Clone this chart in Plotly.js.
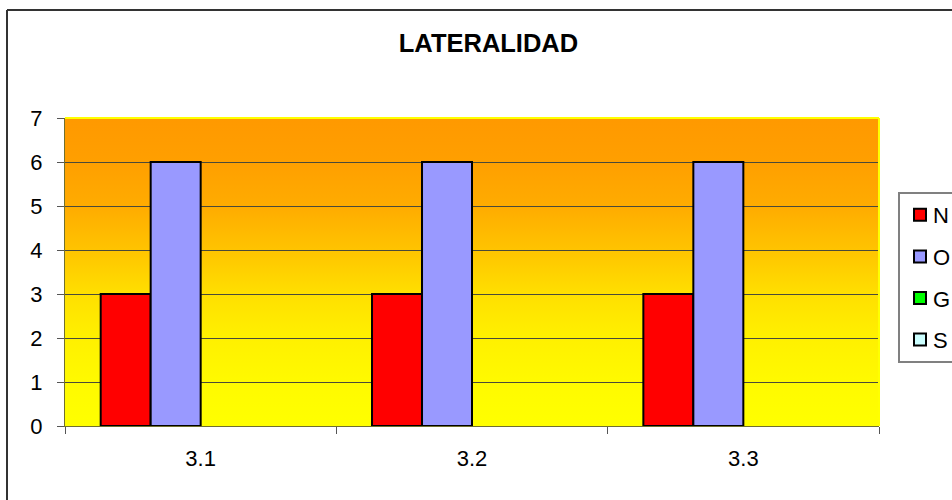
<!DOCTYPE html>
<html><head><meta charset="utf-8">
<script src="https://cdn.plot.ly/plotly-3.0.1.min.js"></script>
<style>
html,body{margin:0;padding:0;background:#fff;overflow:hidden;}
#bg{position:absolute;left:65px;top:118px;width:814px;height:308px;
  background:linear-gradient(to bottom,#FF9900 0%,#FF9F00 14%,#FFAC00 29%,#FFC400 43%,#FFDF00 57%,#FFF000 71%,#FFFA00 86%,#FFFF00 100%);}
#chart{position:absolute;left:0;top:0;width:952px;height:500px;}
</style></head><body>
<div id="bg"></div><div id="chart"></div>
<script>
const categories = ['3.1', '3.2', '3.3'];
const seriesNames = ['N', 'O', 'G', 'S'];
const valuesN = [3, 3, 3];
const valuesO = [6, 6, 6];
const valuesG = [0, 0, 0];
const valuesS = [0, 0, 0];
const seriesColors = ['#FF0000', '#9999FF', '#00FF00', '#CCFFFF'];
const yTicks = [0, 1, 2, 3, 4, 5, 6, 7];
const chartTitle = 'LATERALIDAD';

const allValues = [valuesN, valuesO, valuesG, valuesS];
const FONT = 'Liberation Sans, Arial, sans-serif';

// zero-height bars are invisible in the reference, so they are passed as gaps
const traces = seriesNames.map((name, i) => ({
  type: 'bar',
  name: name,
  x: categories,
  y: allValues[i].map(v => (v === 0 ? null : v)),
  legendgroup: 'g' + i,
  marker: { color: seriesColors[i], line: { color: '#000', width: 2 } }
}));

// pixel -> paper helpers (plot area 65..879 x, 118..426 y)
const L = 65, R = 879, T = 118, B = 426;
const px = v => (v - L) / (R - L);
const py = v => (B - v) / (B - T);

const layout = {
  width: 952, height: 500,
  margin: { l: L, r: 952 - R, t: T, b: 500 - B, autoexpand: false },
  paper_bgcolor: 'rgba(0,0,0,0)',
  plot_bgcolor: 'rgba(0,0,0,0)',
  font: { family: FONT, color: '#000' },
  title: {
    text: chartTitle,
    font: { family: FONT, size: 25.5, weight: 'bold', color: '#000' },
    xref: 'paper', x: px(488.5), xanchor: 'center',
    yref: 'container', y: 1 - 43 / 500, yanchor: 'middle'
  },
  barmode: 'group',
  bargap: 0.263,
  bargroupgap: 0,
  xaxis: {
    type: 'category',
    tickson: 'boundaries',
    ticks: 'outside', ticklen: 7, tickcolor: '#555', tickwidth: 1,
    showline: true, linecolor: '#707030', linewidth: 1,
    showgrid: false, zeroline: false,
    tickfont: { family: FONT, size: 22, color: '#000' },
    ticklabelstandoff: 13
  },
  yaxis: {
    range: [0, 7],
    tickvals: yTicks,
    ticktext: yTicks.map(String),
    ticks: 'outside', ticklen: 7, tickcolor: '#555', tickwidth: 1,
    showline: true, linecolor: '#707030', linewidth: 1,
    showgrid: true, gridcolor: '#4a4a3a', gridwidth: 1,
    zeroline: false,
    tickfont: { family: FONT, size: 22, color: '#000' },
    ticklabelstandoff: 10
  },
  showlegend: true,
  legend: {
    x: px(898), xanchor: 'left',
    y: py(192), yanchor: 'top',
    bgcolor: '#FFFFFF', bordercolor: '#808080', borderwidth: 2,
    font: { family: FONT, size: 22, color: '#000' },
    traceorder: 'grouped', tracegroupgap: 10
  },
  shapes: [
    { type: 'line', xref: 'paper', yref: 'paper', x0: 0, x1: 1, y0: 1, y1: 1,
      line: { color: '#FFFF00', width: 2 } },
    { type: 'line', xref: 'paper', yref: 'paper', x0: 1, x1: 1, y0: 0, y1: 1,
      line: { color: '#FFFF00', width: 2 } },
    { type: 'line', xref: 'paper', yref: 'paper', x0: px(7), x1: px(7), y0: py(520), y1: py(10),
      line: { color: '#333', width: 2 } },
    { type: 'line', xref: 'paper', yref: 'paper', x0: px(7), x1: px(1000), y0: py(10), y1: py(10),
      line: { color: '#333', width: 2 } }
  ]
};

Plotly.newPlot('chart', traces, layout, { displayModeBar: false, staticPlot: true }).then(gd => {
  // tighter gap between legend swatch and label, as in the reference
  gd.querySelectorAll('.legend .legendtext').forEach(t => t.setAttribute('x', 33));
});
</script>
</body></html>
